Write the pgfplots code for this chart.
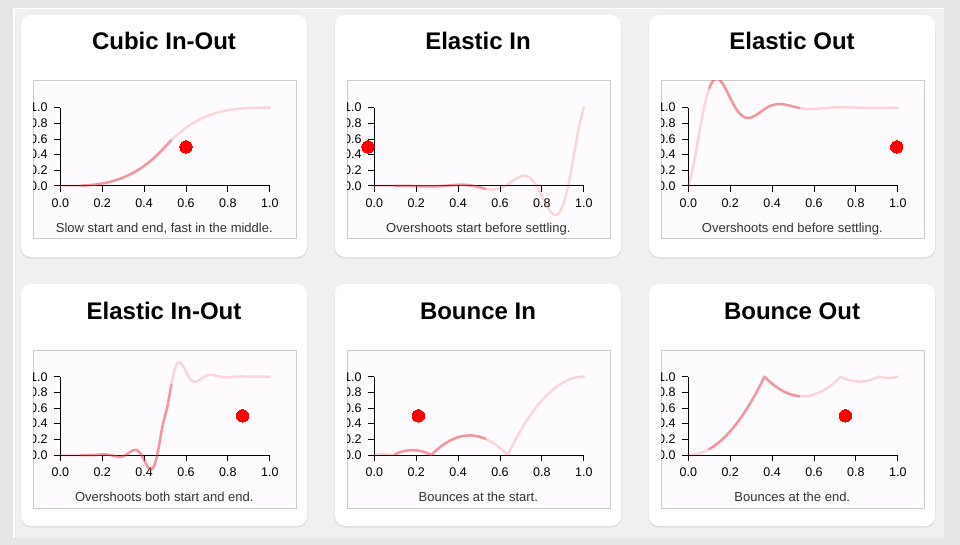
\documentclass[border=0pt]{standalone}
\usepackage{fontspec}
\setmainfont{Liberation Sans}
\usepackage{pgfplots}
\usepackage{pgfplotstable}
\pgfplotsset{compat=1.18}

\definecolor{pagebg}{RGB}{229,229,229}
\definecolor{panelbg}{RGB}{240,240,240}
\definecolor{cardshadow}{RGB}{222,222,222}
\definecolor{framebg}{RGB}{253,251,253}
\definecolor{framegray}{RGB}{204,204,204}
\definecolor{capgray}{RGB}{51,51,51}
\definecolor{easered}{RGB}{235,65,75}
\definecolor{dotred}{RGB}{255,0,0}

% easing curves, t against eased value
\pgfplotstableread{
t y
0 0
0.05 0.0005
0.1 0.004
0.15 0.0135
0.2 0.032
0.25 0.0625
0.3 0.108
0.35 0.1715
0.4 0.256
0.45 0.3645
0.5 0.5
0.53 0.5847
0.55 0.6355
0.6 0.744
0.65 0.8285
0.7 0.892
0.75 0.9375
0.8 0.968
0.85 0.9865
0.9 0.996
0.95 0.9995
1 1
}\cubic

\pgfplotstableread{
t y
0 0
0.1 0.002
0.16 0.0009
0.2 -0.002
0.22 -0.0036
0.24 -0.005
0.26 -0.0058
0.28 -0.0055
0.30 -0.0039
0.32 -0.0009
0.34 0.0032
0.36 0.0079
0.38 0.0124
0.40 0.0156
0.42 0.0164
0.44 0.0138
0.46 0.0073
0.48 -0.0028
0.50 -0.0156
0.52 -0.0290
0.53 -0.0352
0.54 -0.0403
0.56 -0.0463
0.58 -0.0440
0.60 -0.0313
0.62 -0.0075
0.64 0.0255
0.66 0.0634
0.68 0.0994
0.70 0.1250
0.72 0.1312
0.74 0.1103
0.76 0.0586
0.78 -0.0227
0.80 -0.1250
0.82 -0.2323
0.84 -0.3227
0.86 -0.3706
0.88 -0.3522
0.90 -0.2500
0.92 -0.0600
0.94 0.2039
0.96 0.5070
0.98 0.7953
1.00 1.0000
}\elasticin

\pgfplotstableread{
t y
0 0
0.02 0.2047
0.04 0.4930
0.06 0.7961
0.08 1.0600
0.10 1.2500
0.12 1.3522
0.14 1.3706
0.16 1.3227
0.18 1.2323
0.20 1.1250
0.22 1.0227
0.24 0.9414
0.26 0.8897
0.28 0.8688
0.30 0.8750
0.32 0.9006
0.34 0.9366
0.36 0.9745
0.38 1.0075
0.40 1.0313
0.42 1.0440
0.44 1.0463
0.46 1.0403
0.48 1.0290
0.50 1.0156
0.52 1.0028
0.53 0.9973
0.54 0.9927
0.56 0.9862
0.58 0.9836
0.60 0.9844
0.62 0.9876
0.64 0.9921
0.66 0.9968
0.68 1.0009
0.70 1.0039
0.72 1.0055
0.74 1.0058
0.76 1.0050
0.78 1.0036
0.80 1.0020
0.84 0.9991
0.90 0.9980
1.00 1.0000
}\elasticout

\pgfplotstableread{
t y
0 0
0.1 -0.0010
0.12 -0.0025
0.14 -0.0028
0.16 -0.0005
0.18 0.0040
0.20 0.0078
0.22 0.0069
0.24 -0.0014
0.25 -0.0078
0.26 -0.0145
0.27 -0.0201
0.28 -0.0232
0.29 -0.0220
0.30 -0.0156
0.31 -0.0038
0.32 0.0127
0.33 0.0317
0.34 0.0497
0.35 0.0625
0.36 0.0656
0.37 0.0552
0.38 0.0293
0.39 -0.0114
0.40 -0.0625
0.41 -0.1162
0.42 -0.1613
0.43 -0.1853
0.44 -0.1760
0.45 -0.1250
0.46 -0.0300
0.47 0.1019
0.48 0.2535
0.49 0.3977
0.50 0.5000
0.51 0.6023
0.52 0.7465
0.53 0.8981
0.54 1.0300
0.55 1.1250
0.56 1.1760
0.57 1.1853
0.58 1.1613
0.59 1.1162
0.60 1.0625
0.61 1.0114
0.62 0.9707
0.63 0.9448
0.64 0.9344
0.65 0.9375
0.66 0.9503
0.67 0.9683
0.68 0.9873
0.69 1.0038
0.70 1.0156
0.71 1.0220
0.72 1.0232
0.73 1.0201
0.74 1.0145
0.75 1.0078
0.76 1.0014
0.78 0.9931
0.80 0.9922
0.82 0.9960
0.84 1.0005
0.86 1.0028
0.88 1.0025
0.90 1.0010
1.00 1.0000
}\elasticinout

\pgfplotstableread{
t y
0 0
0.02 0.0107
0.04 0.0154
0.06 0.0140
0.08 0.0066
0.0909 0
0.10 0.0119
0.12 0.0336
0.14 0.0493
0.16 0.0589
0.18 0.0625
0.20 0.0600
0.22 0.0515
0.24 0.0369
0.26 0.0163
0.2727 0
0.28 0.0196
0.30 0.0694
0.32 0.1131
0.34 0.1508
0.36 0.1824
0.38 0.2080
0.40 0.2275
0.42 0.2410
0.44 0.2484
0.46 0.2498
0.48 0.2451
0.50 0.2344
0.52 0.2176
0.53 0.2069
0.54 0.1948
0.56 0.1659
0.58 0.1310
0.60 0.0900
0.62 0.0430
0.6364 0
0.64 0.0199
0.66 0.1258
0.68 0.2256
0.70 0.3194
0.72 0.4071
0.74 0.4888
0.76 0.5644
0.78 0.6340
0.80 0.6975
0.82 0.7550
0.84 0.8064
0.86 0.8518
0.88 0.8911
0.90 0.9244
0.92 0.9516
0.94 0.9728
0.96 0.9879
0.98 0.9970
1.00 1.0000
}\bouncein

\pgfplotstableread{
t y
0 0
0.02 0.0030
0.04 0.0121
0.06 0.0272
0.08 0.0484
0.10 0.0756
0.12 0.1089
0.14 0.1482
0.16 0.1936
0.18 0.2450
0.20 0.3025
0.22 0.3660
0.24 0.4356
0.26 0.5112
0.28 0.5929
0.30 0.6806
0.32 0.7744
0.34 0.8742
0.36 0.9801
0.3636 1.0000
0.38 0.9570
0.40 0.9100
0.42 0.8690
0.44 0.8341
0.46 0.8052
0.48 0.7824
0.50 0.7656
0.52 0.7549
0.53 0.7518
0.54 0.7502
0.56 0.7516
0.58 0.7590
0.60 0.7725
0.62 0.7920
0.64 0.8176
0.66 0.8492
0.68 0.8869
0.70 0.9306
0.72 0.9804
0.7273 1.0000
0.74 0.9837
0.76 0.9631
0.78 0.9485
0.80 0.9400
0.82 0.9375
0.84 0.9411
0.86 0.9507
0.88 0.9664
0.90 0.9881
0.9091 1.0000
0.92 0.9934
0.94 0.9860
0.96 0.9846
0.98 0.9893
1.00 1.0000
}\bounceout

\pgfplotsset{
  easeaxis/.style={
    scale only axis, width=209.5pt, height=78.3pt,
    anchor=south west,
    xmin=0, xmax=1, ymin=0, ymax=1,
    enlargelimits=false, clip=false,
    axis lines=left, axis line style={-, black, line width=1pt},
    % inside ticks of negative length point outwards, labels keep a fixed offset
    tick align=inside, major tick length=-6pt,
    tick style={black, line width=1pt},
    xtick={0,0.2,0.4,0.6,0.8,1}, ytick={0,0.2,0.4,0.6,0.8,1},
    minor tick num=0,
    tick label style={font=\fontsize{12.5}{15}\selectfont, inner sep=0pt},
    xticklabel style={anchor=north},
    yticklabel style={anchor=east},
    xticklabel shift=13pt, yticklabel shift=12.6pt,
    /pgf/number format/fixed,
    /pgf/number format/fixed zerofill,
    /pgf/number format/precision=1,
    /pgf/number format/assume math mode=true,
  },
  easeline/.style={no marks, line width=2.5pt, color=easered, draw opacity=0.2, line join=round, line cap=round},
  easetrail/.style={no marks, line width=2.5pt, color=easered, draw opacity=0.42, line join=round, line cap=round},
  easedot/.style={only marks, mark=*, mark size=6.2pt, color=dotred, mark options={line width=0pt}},
}

% #1,#2 card shift, #3 title, #4 caption, #5 table, #6 dot position, #7 plot options
\newcommand\easepanel[7]{%
  \begin{scope}[shift={(#1,#2)}]
    \fill[cardshadow, rounded corners=10pt] (20.5pt,-16.5pt) rectangle (307.5pt,-258.5pt);
    \fill[white, rounded corners=10pt] (21pt,-15pt) rectangle (307pt,-257pt);
    \filldraw[fill=framebg, draw=framegray, line width=1pt] (33.3pt,-81pt) rectangle (296.3pt,-239pt);
    \node[font=\fontsize{24}{28}\selectfont\bfseries, anchor=base, inner sep=0pt] at (164pt,-50pt) {#3};
    \node[font=\fontsize{13}{15}\selectfont, text=capgray, anchor=base, inner sep=0pt] at (164.3pt,-232.3pt) {#4};
    \begin{scope}
      \clip (33.3pt,-81pt) rectangle (296.3pt,-239pt);
      \begin{axis}[easeaxis, at={(60.3pt,-186pt)}]
        \addplot[easeline, #7] table {#5};
        \addplot[easetrail, #7, restrict x to domain=0.1:0.53] table {#5};
        \addplot[easedot] coordinates {(#6,0.5)};
      \end{axis}
    \end{scope}
  \end{scope}}

\begin{document}
\begin{tikzpicture}
\path[use as bounding box] (0,0) rectangle (960pt,-545pt);
\fill[pagebg] (0,0) rectangle (960pt,-545pt);
\fill[panelbg] (13pt,-8pt) rectangle (944pt,-538pt);
\draw[white, line width=1.5pt] (13.75pt,-538pt) -- (13.75pt,-8.75pt) -- (944pt,-8.75pt);

\easepanel{0pt}{0pt}{Cubic In-Out}{Slow start and end, fast in the middle.}{\cubic}{0.6}{smooth}
\easepanel{314pt}{0pt}{Elastic In}{Overshoots start before settling.}{\elasticin}{-0.03}{smooth}
\easepanel{628pt}{0pt}{Elastic Out}{Overshoots end before settling.}{\elasticout}{0.995}{smooth}
\easepanel{0pt}{-269pt}{Elastic In-Out}{Overshoots both start and end.}{\elasticinout}{0.87}{smooth}
\easepanel{314pt}{-269pt}{Bounce In}{Bounces at the start.}{\bouncein}{0.21}{}
\easepanel{628pt}{-269pt}{Bounce Out}{Bounces at the end.}{\bounceout}{0.75}{}
\end{tikzpicture}
\end{document}
